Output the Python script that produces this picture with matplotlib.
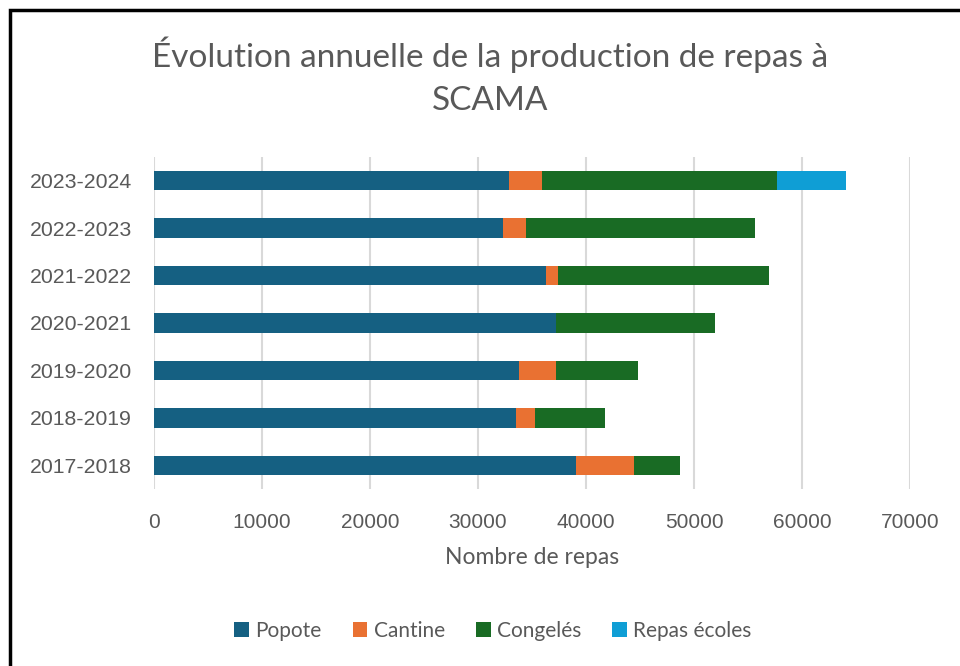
import matplotlib
matplotlib.use("Agg")
import matplotlib.pyplot as plt
from matplotlib.patches import Rectangle
import numpy as np

plt.rcParams['font.family'] = ['Lato', 'DejaVu Sans']

years = ["2017-2018", "2018-2019", "2019-2020", "2020-2021", "2021-2022", "2022-2023", "2023-2024"]
popote = [39050, 33490, 33830, 37260, 36270, 32280, 32870]
cantine = [5350, 1760, 3430, 0, 1110, 2140, 3090]
congeles = [4270, 6520, 7580, 14720, 19610, 21240, 21740]
repas_ecoles = [0, 0, 0, 0, 0, 0, 6400]

series = [("Popote", popote, "#156082"),
          ("Cantine", cantine, "#E97132"),
          ("Congelés", congeles, "#196B24"),
          ("Repas écoles", repas_ecoles, "#0F9ED5")]

fig = plt.figure(figsize=(9.6, 6.66), dpi=100)
W, H = 960, 666
ax = fig.add_axes([154 / W, 1 - 489 / H, (910 - 154) / W, (489 - 157) / H])

y = np.arange(len(years))
left = np.zeros(len(years))
for name, vals, col in series:
    ax.barh(y, vals, left=left, height=0.41, color=col, label=name, zorder=3)
    left += np.array(vals)

ax.set_xlim(0, 70000)
ax.set_ylim(-0.5, len(years) - 0.5)
ax.set_xticks(np.arange(0, 70001, 10000))
ax.set_xticklabels([str(v) for v in range(0, 70001, 10000)], family='Liberation Sans', fontsize=15)
ax.set_yticks(y)
ax.set_yticklabels(years, family='Liberation Sans', fontsize=15.3)
ax.grid(axis='x', color='#D9D9D9', linewidth=1.5, zorder=0)
for s in ax.spines.values():
    s.set_visible(False)
ax.tick_params(axis='both', length=0, colors='#595959')
ax.tick_params(axis='y', pad=16)
ax.tick_params(axis='x', pad=17)
ax.set_xlabel("Nombre de repas", fontsize=16.5, color='#595959', labelpad=11)

fig.text(490 / W, 1 - 55 / H, "Évolution annuelle de la production de repas à",
         ha='center', va='center', fontsize=24, color='#595959')
fig.text(490 / W, 1 - 101 / H, "SCAMA", ha='center', va='center', fontsize=24, color='#595959')

handles, labels = ax.get_legend_handles_labels()
fig.legend(handles, labels, loc='center', bbox_to_anchor=(493 / W, 1 - 631 / H), ncol=4,
           frameon=False, fontsize=15, labelcolor='#595959', handlelength=0.7,
           handleheight=0.7, handletextpad=0.3, columnspacing=1.5)

fig.patches.append(Rectangle((10 / W, -0.01), 1.0, 1 - 10 / H + 0.01, transform=fig.transFigure,
                             fill=False, edgecolor='black', linewidth=2.5))

fig.savefig("out.png", dpi=100, facecolor='white')
